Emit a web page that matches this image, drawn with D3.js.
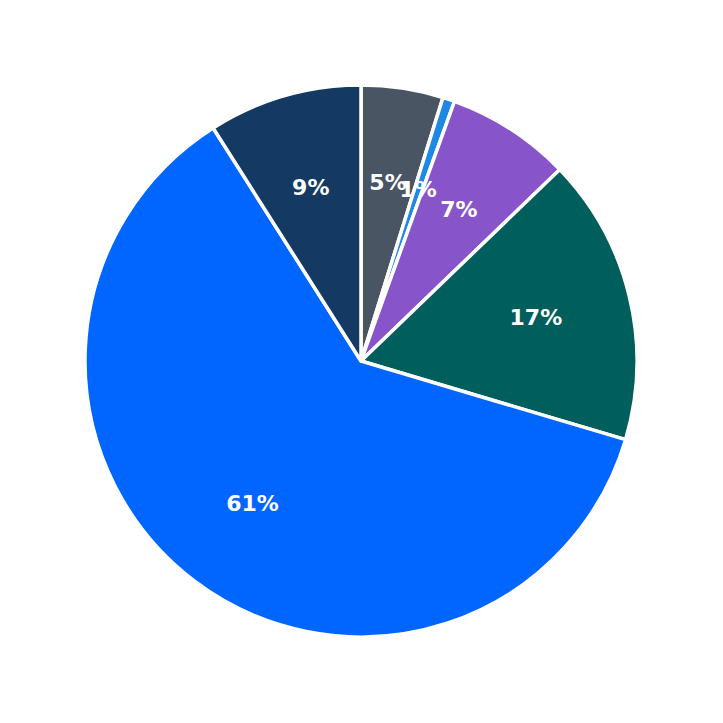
<!DOCTYPE html>
<html>
<head>
<meta charset="utf-8">
<script src="https://cdn.jsdelivr.net/npm/d3@7"></script>
<style>
  html, body { margin: 0; padding: 0; background: #fff; }
  svg { display: block; }
</style>
</head>
<body>
<svg id="chart"></svg>
<script>
// slices, clockwise from 12 o'clock
var categories = ["A", "B", "C", "D", "E", "F"];
var values = [4.8, 0.7, 7.3, 16.8, 61.4, 9.0];
var labels = ["5%", "1%", "7%", "17%", "61%", "9%"];
var colors = ["#4a5563", "#1e88e5", "#8755c9", "#005e5c", "#0066ff", "#143a63"];

var width = 723, height = 723;
var cx = 361, cy = 361, radius = 276;

var svg = d3.select("#chart")
  .attr("width", width)
  .attr("height", height);

var data = categories.map(function(c, i){
  return { name: c, value: values[i], label: labels[i], color: colors[i] };
});

var pie = d3.pie()
  .sort(null)
  .value(function(d){ return d.value; });

var arc = d3.arc().innerRadius(0).outerRadius(radius);
var labelArc = d3.arc().innerRadius(radius * 0.652).outerRadius(radius * 0.652);

var g = svg.append("g").attr("transform", "translate(" + cx + "," + cy + ")");

var slices = g.selectAll("g.slice")
  .data(pie(data))
  .enter().append("g")
  .attr("class", "slice");

slices.append("path")
  .attr("d", arc)
  .attr("fill", function(d){ return d.data.color; })
  .attr("stroke", "#fff")
  .attr("stroke-width", 3.5)
  .attr("stroke-linejoin", "round");

g.selectAll("text.pct")
  .data(pie(data))
  .enter().append("text")
  .attr("class", "pct")
  .attr("transform", function(d){ return "translate(" + labelArc.centroid(d) + ")"; })
  .attr("text-anchor", "middle")
  .attr("dy", "0.3em")
  .style("font-family", "DejaVu Sans, sans-serif")
  .style("font-weight", "bold")
  .style("font-size", "22px")
  .style("fill", "#fff")
  .text(function(d){ return d.data.label; });
</script>
</body>
</html>
